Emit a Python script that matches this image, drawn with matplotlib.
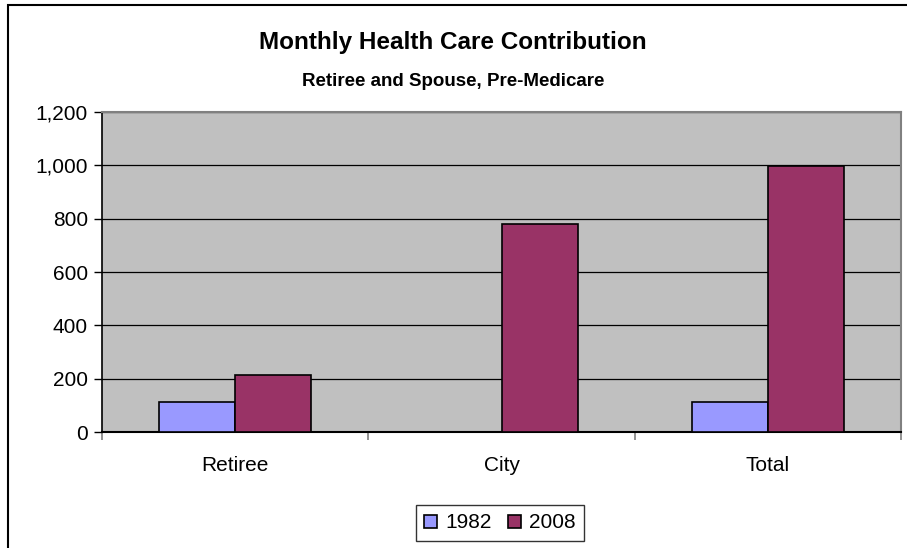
import matplotlib.pyplot as plt
import numpy as np
from matplotlib.patches import Rectangle
from matplotlib.ticker import FuncFormatter

categories = ['Retiree', 'City', 'Total']
series_names = ['1982', '2008']
values_1982 = [113, 0, 113]
values_2008 = [215, 779, 996]
colors = ['#9999FF', '#993366']

plt.rcParams['font.family'] = ['Liberation Sans', 'DejaVu Sans']

fig = plt.figure(figsize=(9.07, 5.48), dpi=100)
ax = fig.add_axes([102 / 907, 1 - 432 / 548, 799 / 907, 320 / 548])

# outer chart border
fig.patches.append(Rectangle((8 / 907, -0.01), 1.0, 1 - 5 / 548 + 0.01, transform=fig.transFigure,
                             fill=False, edgecolor='black', linewidth=1.5))

x = np.arange(len(categories))
w = 0.2857
ax.bar(x - w / 2, values_1982, w, color=colors[0], edgecolor='black', linewidth=1.2,
       label=series_names[0], zorder=3)
ax.bar(x + w / 2, values_2008, w, color=colors[1], edgecolor='black', linewidth=1.2,
       label=series_names[1], zorder=3)

ax.set_facecolor('#C0C0C0')
ax.set_xlim(-0.5, 2.5)
ax.set_ylim(0, 1200)
ax.set_yticks(range(0, 1201, 200))
ax.yaxis.set_major_formatter(FuncFormatter(lambda v, p: f'{int(v):,}'))
ax.grid(axis='y', color='black', linewidth=0.9, zorder=1)
ax.set_axisbelow(True)

ax.set_xticks(x)
ax.set_xticklabels(categories, fontsize=15)
ax.tick_params(axis='x', length=0, pad=17)
ax.set_xticks([-0.5, 0.5, 1.5, 2.5], minor=True)
ax.tick_params(axis='x', which='minor', length=6, color='#808080', width=1.2)
ax.tick_params(axis='y', labelsize=15, length=6, width=1, pad=4)

for side in ['top', 'right']:
    ax.spines[side].set_color('#808080')
    ax.spines[side].set_linewidth(1.5)
ax.spines['left'].set_color('black')
ax.spines['bottom'].set_color('black')
ax.spines['left'].set_linewidth(1.2)
ax.spines['bottom'].set_linewidth(1.5)

fig.text(453 / 907, 1 - 42 / 548, 'Monthly Health Care Contribution', ha='center', va='center',
         fontsize=17.5, fontweight='bold')
fig.text(453 / 907, 1 - 81 / 548, 'Retiree and Spouse, Pre-Medicare', ha='center', va='center',
         fontsize=13.5, fontweight='bold')

leg = fig.legend(loc='center', bbox_to_anchor=(500 / 907, 1 - 523 / 548), ncol=2, fontsize=15,
                 frameon=True, fancybox=False, edgecolor='black', handlelength=0.6,
                 handleheight=0.6, handletextpad=0.4, columnspacing=0.8, borderpad=0.4,
                 borderaxespad=0)
leg.get_frame().set_linewidth(1.0)

fig.savefig('out.png', dpi=100)
